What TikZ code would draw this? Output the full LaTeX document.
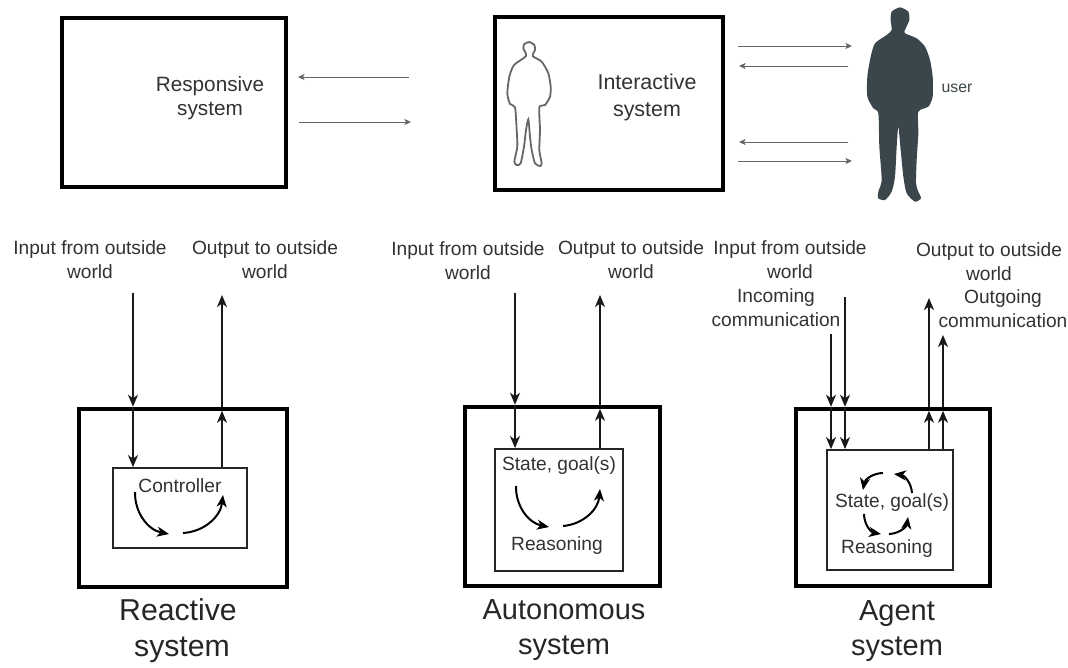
\documentclass[tikz,border=0pt]{standalone}
\usepackage{fontspec}
\usetikzlibrary{arrows.meta}
\setmainfont{Liberation Sans}
\definecolor{txtgray}{RGB}{50, 50, 50}
\definecolor{usergray}{RGB}{58, 70, 75}
\tikzset{
  thickbox/.style={draw=black,line width=0.09cm,inner sep=0pt},
  thinbox/.style={draw=black!85,line width=0.036cm,inner sep=0pt},
  label/.style={text=txtgray,inner sep=0pt,align=center,font=\fontsize{10.9pt}{13.6pt}\selectfont},
  title/.style={text=black!85,inner sep=0pt,anchor=base,font=\fontsize{16.5pt}{19pt}\selectfont},
  sysarrow/.style={-{Stealth[length=0.24cm,width=0.2cm,inset=0.07cm]},line width=0.032cm,black!90},
  userarrow/.style={-{Stealth[length=0.13cm,width=0.12cm,inset=0.03cm]},line width=0.02cm,black!60},
  looparrow/.style={-{Stealth[length=0.24cm,width=0.2cm,inset=0.07cm]},line width=0.04cm,bend right=40,black}
}
\begin{document}
\begin{tikzpicture}[x=0.02cm,y=-0.02cm]
\useasboundingbox (0,0) rectangle (1068,667);

% Responsive system
\node[thickbox,minimum width=4.48cm,minimum height=3.38cm] (resp) at (174,102.5) {};
\node[label,font=\fontsize{11.8pt}{13.8pt}\selectfont] (resptext) at (210,98) {Responsive\\system};
\coordinate (respA) at (409,77);
\coordinate (respB) at (298,77);
\coordinate (respC) at (299,122);
\coordinate (respD) at (411,122);
\draw[userarrow] (respA) -- (respB);
\draw[userarrow] (respC) -- (respD);

% Interactive system
\node[thickbox,minimum width=4.56cm,minimum height=3.46cm] (inter) at (609,103.5) {};
\node[label,font=\fontsize{12.2pt}{15pt}\selectfont] (intertext) at (647,97.5) {Interactive\\system};
\node[label,text=usergray,font=\fontsize{9pt}{11pt}\selectfont] (usertext) at (957,88) {user};
\coordinate (uA) at (738,46);
\coordinate (uB) at (852,46);
\coordinate (uC) at (848,66);
\coordinate (uD) at (739,66);
\coordinate (uE) at (848,142);
\coordinate (uF) at (739,142);
\coordinate (uG) at (738,161);
\coordinate (uH) at (852,161);
\draw[userarrow] (uA) -- (uB);
\draw[userarrow] (uC) -- (uD);
\draw[userarrow] (uE) -- (uF);
\draw[userarrow] (uG) -- (uH);

% Figures
\begin{scope}[shift={(850,0)},scale=1/3]
\fill[usergray] plot[smooth cycle,tension=0.4] coordinates {
  (150,22) (175,35) (178,60) (165,90) (165,100) (200,115) (225,140) (240,180) (248,230)
  (248,290) (235,320) (205,335) (205,400) (200,480) (198,550) (205,575) (213,595)
  (195,605) (170,580) (160,530) (152,450) (145,380) (140,440) (135,530) (125,575)
  (105,600) (85,595) (85,575) (95,540) (88,440) (85,340) (70,325) (52,290) (52,230)
  (62,170) (75,130) (110,105) (125,90) (122,60) (125,35)};
\end{scope}
\begin{scope}[shift={(500,30)},scale=1/3]
\draw[black!60,line width=0.036cm] plot[smooth cycle,tension=0.4] coordinates {
  (88,36) (103,45) (105,60) (98,78) (125,95) (145,130) (152,170) (150,200) (135,225)
  (118,232) (120,300) (118,360) (125,400) (120,408) (105,400) (95,360) (90,320)
  (85,268) (78,300) (72,350) (62,400) (50,405) (43,395) (52,350) (50,300) (45,232)
  (30,222) (22,190) (28,140) (42,105) (78,78) (70,55) (73,42)};
\end{scope}

% Reactive system
\node[thickbox,minimum width=4.16cm,minimum height=3.56cm] (react) at (183,498) {};
\node[thinbox,minimum width=2.68cm,minimum height=1.6cm] (reactctrl) at (180,508) {};
\node[label] (reactin) at (90,259.5) {Input from outside\\world};
\node[label] (reactout) at (265,259.5) {Output to outside\\world};
\node[label] (reacttext) at (180,486) {Controller};
\node[title,font=\fontsize{17.2pt}{19pt}\selectfont] (reacttitleA) at (178,620) {Reactive};
\node[title,font=\fontsize{17.2pt}{19pt}\selectfont] (reacttitleB) at (182,656) {system};
\coordinate (rIn) at (133,293);
\coordinate (rOut) at (222,295);
\draw[sysarrow] (rIn) -- (rIn |- react.north);
\draw[sysarrow] (rIn |- react.north) -- (rIn |- reactctrl.north);
\draw[sysarrow,shorten >=0.08cm] (rOut |- reactctrl.north) -- (rOut |- react.north);
\draw[sysarrow] (rOut |- react.north) -- (rOut);
\coordinate (rLoopA) at (135,492);
\coordinate (rLoopB) at (169,534);
\coordinate (rLoopC) at (183,533);
\coordinate (rLoopD) at (223,495);
\draw[looparrow] (rLoopA) to (rLoopB);
\draw[looparrow] (rLoopC) to (rLoopD);

% Autonomous system
\node[thickbox,minimum width=3.9cm,minimum height=3.58cm] (auto) at (562.5,496.5) {};
\node[thinbox,minimum width=2.56cm,minimum height=2.44cm] (autoctrl) at (559,510) {};
\node[label] (autoin) at (468,261) {Input from outside\\world};
\node[label] (autoout) at (631,260) {Output to outside\\world};
\node[label] (autostate) at (559,466) {State, goal(s)};
\node[label] (autoreason) at (557,546) {Reasoning};
\node[title] (autotitleA) at (564,619) {Autonomous};
\node[title] (autotitleB) at (564,654) {system};
\coordinate (aIn) at (515,293);
\coordinate (aOut) at (600,295);
\draw[sysarrow] (aIn) -- (aIn |- auto.north);
\draw[sysarrow] (aIn |- auto.north) -- (aIn |- autoctrl.north);
\draw[sysarrow,shorten >=0.08cm] (aOut |- autoctrl.north) -- (aOut |- auto.north);
\draw[sysarrow] (aOut |- auto.north) -- (aOut);
\coordinate (aLoopA) at (516,486);
\coordinate (aLoopB) at (549,527);
\coordinate (aLoopC) at (563,526);
\coordinate (aLoopD) at (600,489);
\draw[looparrow] (aLoopA) to (aLoopB);
\draw[looparrow] (aLoopC) to (aLoopD);

% Agent system
\node[thickbox,minimum width=3.88cm,minimum height=3.54cm] (agent) at (893,497.5) {};
\node[thinbox,minimum width=2.52cm,minimum height=2.4cm] (agentctrl) at (890,510) {};
\node[label] (agentin) at (790,259.5) {Input from outside\\world};
\node[label] (agentinc) at (776,308) {Incoming\\communication};
\node[label] (agentout) at (989,262) {Output to outside\\world};
\node[label] (agentoutc) at (1003,309) {Outgoing\\communication};
\node[label] (agentstate) at (892,503) {State, goal(s)};
\node[label] (agentreason) at (887,549) {Reasoning};
\node[title] (agenttitleA) at (897,620) {Agent};
\node[title] (agenttitleB) at (897,655) {system};
\coordinate (gInA) at (831,334);
\coordinate (gInB) at (845,297);
\coordinate (gOutA) at (929,298);
\coordinate (gOutB) at (943,335);
\foreach \p in {gInA,gInB} {
  \draw[sysarrow] (\p) -- (\p |- agent.north);
  \draw[sysarrow] (\p |- agent.north) -- (\p |- agentctrl.north);
}
\foreach \p in {gOutA,gOutB} {
  \draw[sysarrow,shorten >=0.08cm] (\p |- agentctrl.north) -- (\p |- agent.north);
  \draw[sysarrow] (\p |- agent.north) -- (\p);
}
\coordinate (gLoopA) at (883,473);
\coordinate (gLoopB) at (863,490);
\coordinate (gLoopC) at (912,493);
\coordinate (gLoopD) at (894,474);
\coordinate (gLoopE) at (864,514);
\coordinate (gLoopF) at (881,534);
\coordinate (gLoopG) at (889,534);
\coordinate (gLoopH) at (908,517);
\draw[looparrow] (gLoopA) to (gLoopB);
\draw[looparrow] (gLoopC) to (gLoopD);
\draw[looparrow] (gLoopE) to (gLoopF);
\draw[looparrow] (gLoopG) to (gLoopH);
\end{tikzpicture}
\end{document}
